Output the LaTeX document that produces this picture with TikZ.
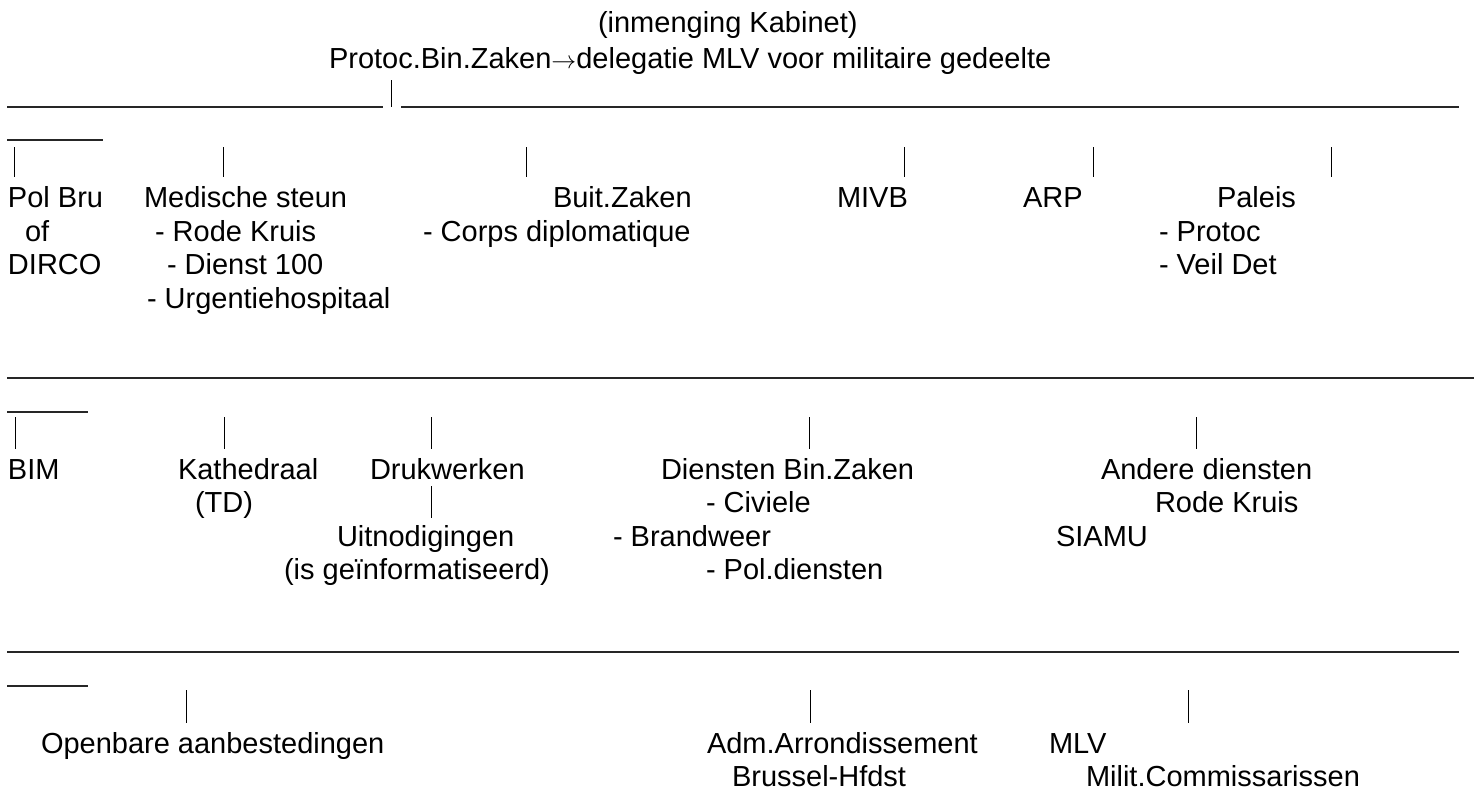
\documentclass[tikz,border=0pt]{standalone}
\usepackage{fontspec}
\setmainfont{Liberation Sans}
\begin{document}
\begin{tikzpicture}[x=1pt,y=-1pt,
  lbl/.style={anchor=base west,inner sep=0pt,outer sep=0pt,font=\fontsize{29pt}{34pt}\selectfont},
  rule/.style={line width=1.6pt,black!85},
  tick/.style={line width=1pt,black}]
\useasboundingbox (0,0) rectangle (1482,793);
% top
\node[lbl] (kab) at (598,32) {(inmenging Kabinet)};
\node[lbl] (prot) at (329,68) {Protoc.Bin.Zaken$\rightarrow$delegatie MLV voor militaire gedeelte};
\coordinate (t0) at (391,80);
\coordinate (t1) at (391,107);
\draw[tick] (t0) -- (t1);
\draw[rule] (7,107) -- (383,107);
\draw[rule] (401,107) -- (1459,107);
\draw[rule] (7,140) -- (103,140);
% row 1 ticks
\foreach \x in {14,223,526,904,1093,1331}{\draw[tick] (\x,147) -- (\x,177);}
% row 1 texts
\node[lbl] (polbru) at (8,207.5) {Pol Bru};
\node[lbl] (of) at (25,241) {of};
\node[lbl] (dirco) at (8,274.5) {DIRCO};
\node[lbl] (med) at (144,207.5) {Medische steun};
\node[lbl] (rk) at (155,241) {- Rode Kruis};
\node[lbl] (d100) at (167,274.5) {- Dienst 100};
\node[lbl] (urg) at (147,308) {- Urgentiehospitaal};
\node[lbl] (buit) at (553,207.5) {Buit.Zaken};
\node[lbl] (corps) at (423,241) {- Corps diplomatique};
\node[lbl] (mivb) at (837,207.5) {MIVB};
\node[lbl] (arp) at (1023,207.5) {ARP};
\node[lbl] (paleis) at (1217,207.5) {Paleis};
\node[lbl] (protoc) at (1159,241) {- Protoc};
\node[lbl] (veil) at (1159,274.5) {- Veil Det};
% line 2
\draw[rule] (7,378) -- (1474,378);
\draw[rule] (7,412) -- (88,412);
\foreach \x in {15,224,431,809,1196}{\draw[tick] (\x,417) -- (\x,449);}
\node[lbl] (bim) at (8,479) {BIM};
\node[lbl] (kat) at (178,479) {Kathedraal};
\node[lbl] (td) at (195,512.5) {(TD)};
\node[lbl] (druk) at (370,479) {Drukwerken};
\draw[tick] (431,486) -- (431,518);
\node[lbl] (uit) at (337,546) {Uitnodigingen};
\node[lbl] (isg) at (284,579.5) {(is geïnformatiseerd)};
\node[lbl] (dbz) at (661,479) {Diensten Bin.Zaken};
\node[lbl] (civ) at (706,512.5) {- Civiele};
\node[lbl] (brand) at (613,546) {- Brandweer};
\node[lbl] (pold) at (706,579.5) {- Pol.diensten};
\node[lbl] (andere) at (1101,479) {Andere diensten};
\node[lbl] (rk2) at (1155,512.5) {Rode Kruis};
\node[lbl] (siamu) at (1056,546) {SIAMU};
% line 3
\draw[rule] (7,652) -- (1459,652);
\draw[rule] (7,686) -- (88,686);
\foreach \x in {186,810,1188}{\draw[tick] (\x,690) -- (\x,723);}
\node[lbl] (open) at (41,753) {Openbare aanbestedingen};
\node[lbl] (adm) at (707,753) {Adm.Arrondissement};
\node[lbl] (brus) at (732,786.5) {Brussel-Hfdst};
\node[lbl] (mlv) at (1049,753) {MLV};
\node[lbl] (milit) at (1086,786.5) {Milit.Commissarissen};
\end{tikzpicture}
\end{document}
